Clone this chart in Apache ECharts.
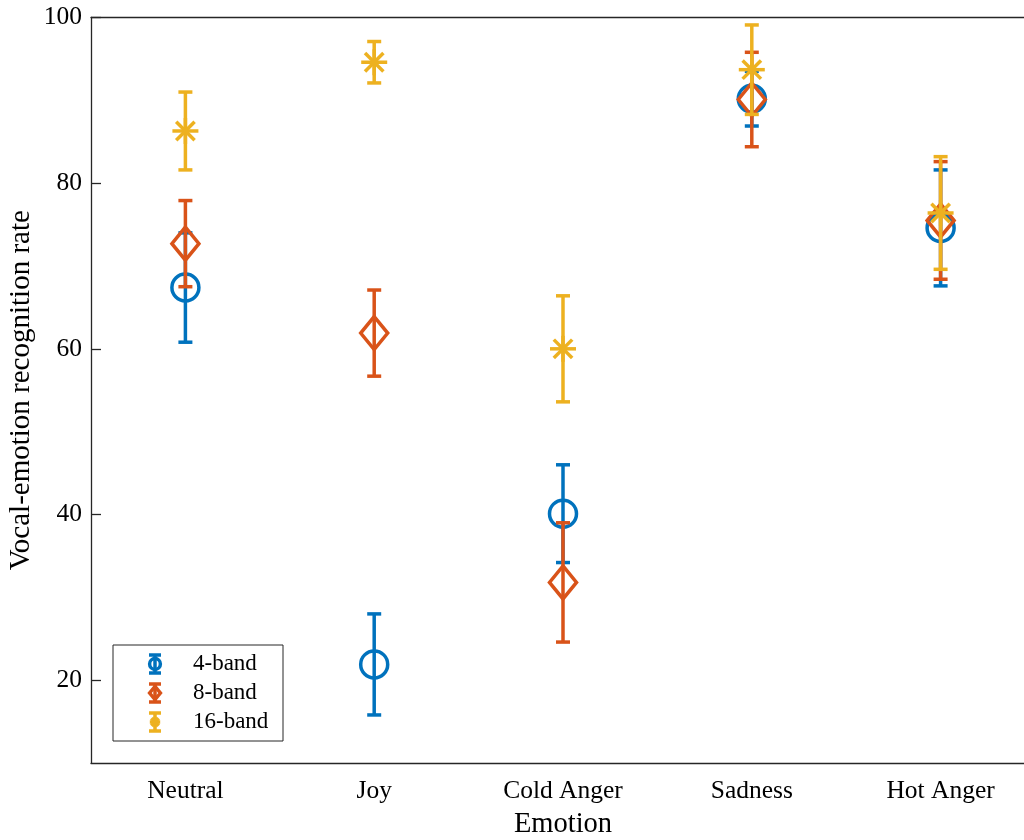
<!DOCTYPE html>
<html>
<head>
<meta charset="utf-8">
<script src="https://cdn.jsdelivr.net/npm/echarts@6/dist/echarts.min.js"></script>
<style>
  html, body { margin: 0; padding: 0; background: #ffffff; }
  #chart { width: 1024px; height: 840px; }
</style>
</head>
<body>
<div id="chart"></div>
<script>
// Emotion categories along the x axis
const emotions = ['Neutral', 'Joy', 'Cold Anger', 'Sadness', 'Hot Anger'];
// Series names (number of vocoder bands)
const bandNames = ['4-band', '8-band', '16-band'];

// Mean recognition rate (%) and symmetric error per emotion
const mean4 = [67.4, 21.9, 40.1, 90.2, 74.6];
const err4 = [6.6, 6.1, 5.9, 3.3, 7.0];
const mean8 = [72.7, 61.9, 31.8, 90.1, 75.5];
const err8 = [5.2, 5.2, 7.2, 5.7, 7.1];
const mean16 = [86.3, 94.6, 60.0, 93.7, 76.4];
const err16 = [4.7, 2.5, 6.4, 5.4, 6.8];

// Y tick labels
const yTicks = [20, 40, 60, 80, 100];

const colors = ['#0072BD', '#D95319', '#EDB120'];
const markerKinds = ['circle', 'diamond', 'asterisk'];
const axisColor = '#262626';
const fontFamily = '"Liberation Serif", "DejaVu Serif", serif';

const bandMeans = [mean4, mean8, mean16];
const bandErrs = [err4, err8, err16];

// Marker glyph centered at (x, y); s scales the glyph
function markerShape(kind, x, y, s, style) {
  if (kind === 'circle') {
    return { type: 'circle', shape: { cx: x, cy: y, r: 13.5 * s }, style: style };
  }
  if (kind === 'diamond') {
    return {
      type: 'polygon',
      shape: { points: [[x, y - 16.5 * s], [x + 13.5 * s, y], [x, y + 16.5 * s], [x - 13.5 * s, y]] },
      style: style
    };
  }
  const r = 13 * s, d = 9.2 * s;
  return {
    type: 'group',
    children: [
      { type: 'line', shape: { x1: x - r, y1: y, x2: x + r, y2: y }, style: style },
      { type: 'line', shape: { x1: x, y1: y - r, x2: x, y2: y + r }, style: style },
      { type: 'line', shape: { x1: x - d, y1: y - d, x2: x + d, y2: y + d }, style: style },
      { type: 'line', shape: { x1: x - d, y1: y + d, x2: x + d, y2: y - d }, style: style }
    ]
  };
}

// Error bar with caps plus a marker at the mean
function makeRenderer(kind) {
  return function (params, api) {
    const idx = api.value(0);
    const m = api.value(1);
    const e = api.value(2);
    const c = api.coord([idx, m]);
    const hi = api.coord([idx, m + e]);
    const lo = api.coord([idx, m - e]);
    const color = api.visual('color');
    const st = { stroke: color, lineWidth: 3.5, fill: 'none' };
    const capW = 7;
    return {
      type: 'group',
      children: [
        { type: 'line', shape: { x1: c[0], y1: hi[1], x2: c[0], y2: lo[1] }, style: st },
        { type: 'line', shape: { x1: c[0] - capW, y1: hi[1], x2: c[0] + capW, y2: hi[1] }, style: st },
        { type: 'line', shape: { x1: c[0] - capW, y1: lo[1], x2: c[0] + capW, y2: lo[1] }, style: st },
        markerShape(kind, c[0], c[1], 1, st)
      ]
    };
  };
}

const series = bandNames.map(function (name, b) {
  return {
    type: 'custom',
    name: name,
    xAxisIndex: 0,
    yAxisIndex: 0,
    itemStyle: { color: colors[b] },
    encode: { x: 0, y: 1 },
    renderItem: makeRenderer(markerKinds[b]),
    data: emotions.map(function (_, i) { return [i, bandMeans[b][i], bandErrs[b][i]]; }),
    z: 2 + b
  };
});

// Legend box with error-bar icons
const legendX = 113, legendY = 645, legendW = 170, legendH = 96;
const legendChildren = [{
  type: 'rect',
  shape: { x: legendX, y: legendY, width: legendW, height: legendH },
  style: { fill: '#ffffff', stroke: axisColor, lineWidth: 1 }
}];
bandNames.forEach(function (name, b) {
  const cy = legendY + 19 + b * 29;
  const cx = 155;
  const st = { stroke: colors[b], lineWidth: 3.5, fill: 'none' };
  legendChildren.push(
    { type: 'line', shape: { x1: cx, y1: cy - 9, x2: cx, y2: cy + 9 }, style: st },
    { type: 'line', shape: { x1: cx - 6, y1: cy - 9, x2: cx + 6, y2: cy - 9 }, style: st },
    { type: 'line', shape: { x1: cx - 6, y1: cy + 9, x2: cx + 6, y2: cy + 9 }, style: st },
    markerShape(markerKinds[b], cx, cy, 0.4, st),
    {
      type: 'text',
      x: 193, y: cy,
      style: { text: name, fill: '#000000', font: '23px ' + fontFamily, textVerticalAlign: 'middle', textAlign: 'left' }
    }
  );
});

const chart = echarts.init(document.getElementById('chart'), null, { renderer: 'canvas' });
chart.setOption({
  animation: false,
  backgroundColor: '#ffffff',
  // plot box runs past the right edge of the canvas
  grid: { left: 91, top: 17.5, width: 944, height: 745.5, containLabel: false, outerBoundsMode: 'none' },
  xAxis: [{
    type: 'category',
    data: emotions,
    position: 'bottom',
    boundaryGap: true,
    name: 'Emotion',
    nameLocation: 'middle',
    nameGap: 47,
    nameMoveOverlap: false,
    nameTextStyle: { fontFamily: fontFamily, fontSize: 28.5, color: '#000000' },
    axisLine: { lineStyle: { color: axisColor, width: 1.3 } },
    axisTick: { inside: true, length: 10, alignWithLabel: true, lineStyle: { color: axisColor, width: 1.3 } },
    axisLabel: { fontFamily: fontFamily, fontSize: 25.5, color: '#000000', margin: 15 },
    splitLine: { show: false }
  }, {
    type: 'category',
    data: emotions,
    position: 'top',
    boundaryGap: true,
    axisLine: { lineStyle: { color: axisColor, width: 1.3 } },
    axisTick: { inside: true, length: 10, alignWithLabel: true, lineStyle: { color: axisColor, width: 1.3 } },
    axisLabel: { show: false },
    splitLine: { show: false }
  }],
  yAxis: [{
    type: 'value',
    min: 10,
    max: 100,
    interval: 10,
    name: 'Vocal-emotion recognition rate',
    nameLocation: 'middle',
    nameRotate: 90,
    nameGap: 55,
    nameMoveOverlap: false,
    nameTextStyle: { fontFamily: fontFamily, fontSize: 29, color: '#000000' },
    axisLine: { show: true, lineStyle: { color: axisColor, width: 1.3 } },
    axisTick: { show: true, inside: true, length: 10, customValues: yTicks, lineStyle: { color: axisColor, width: 1.3 } },
    axisLabel: { fontFamily: fontFamily, fontSize: 25.5, color: '#000000', margin: 9, customValues: yTicks },
    splitLine: { show: false }
  }],
  series: series,
  graphic: [{ type: 'group', children: legendChildren, z: 100 }]
});
</script>
</body>
</html>
